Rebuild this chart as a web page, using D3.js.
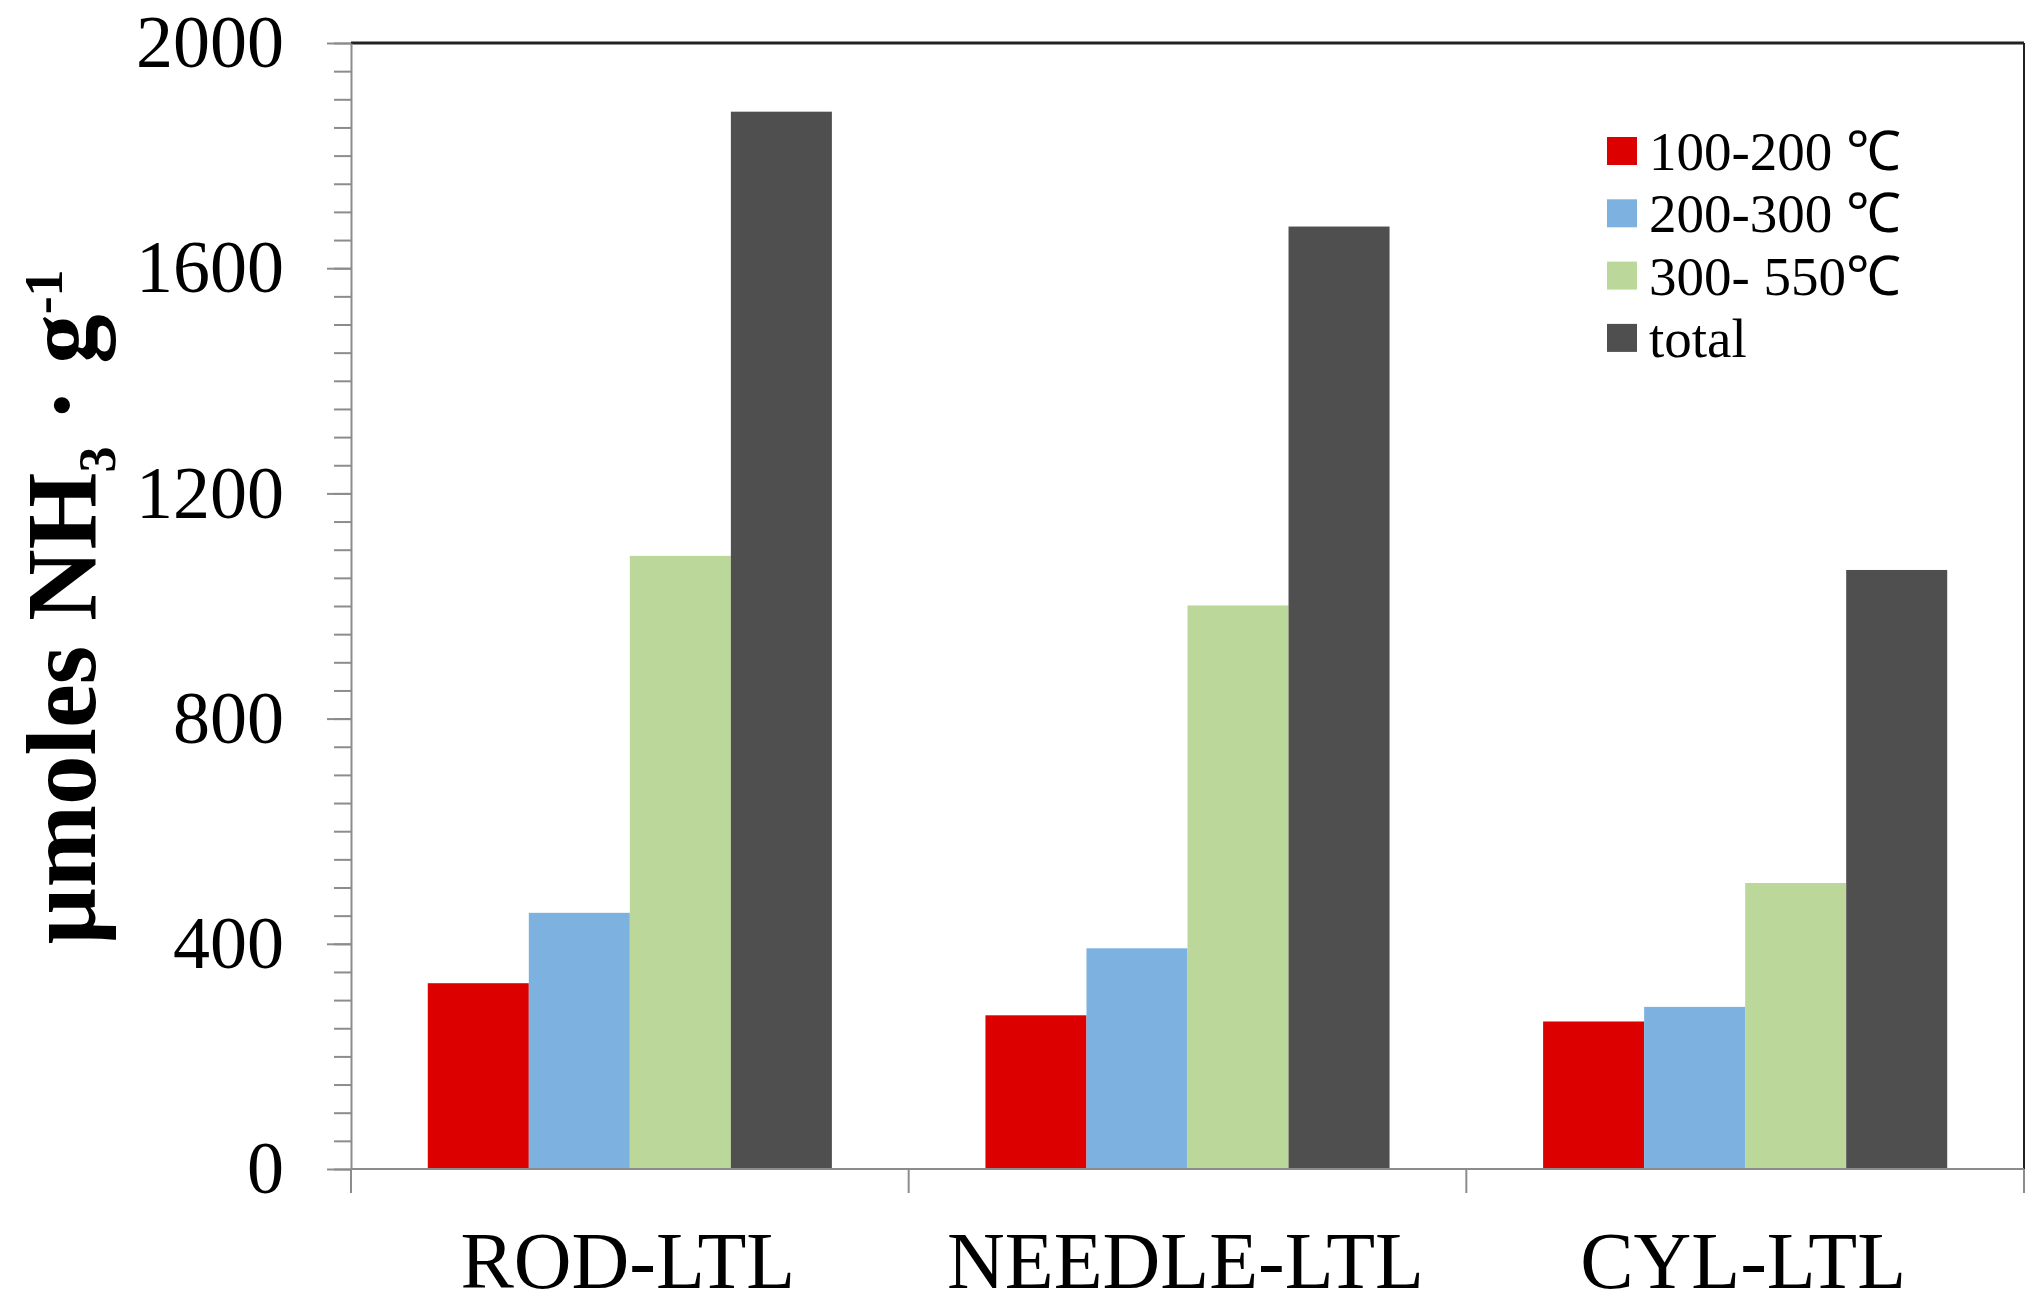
<!DOCTYPE html>
<html>
<head>
<meta charset="utf-8">
<script src="https://cdn.jsdelivr.net/npm/d3@7"></script>
<style>
  html, body { margin: 0; padding: 0; background: #fff; }
  svg { display: block; }
  text { font-family: "Liberation Serif", "Times New Roman", serif; fill: #000; }
</style>
</head>
<body>
<svg id="chart" width="2039" height="1311"></svg>
<script>
// ---- data ----
const categories = ["ROD-LTL", "NEEDLE-LTL", "CYL-LTL"];
const seriesNames = ["100-200 ℃", "200-300 ℃", "300- 550℃", "total"];
const seriesColors = ["#dc0000", "#7cb1e0", "#bcd79a", "#4f4f4f"];
const s100_200 = [330, 273, 262];
const s200_300 = [455, 392, 288];
const s300_550 = [1089, 1001, 508];
const sTotal   = [1878, 1674, 1064];
const majorTicks = [0, 400, 800, 1200, 1600, 2000];
const minorStep = 50;

const seriesValues = [s100_200, s200_300, s300_550, sTotal];

// ---- layout ----
const svg = d3.select("#chart");
const pLeft = 351, pRight = 2024, pTop = 43, pBottom = 1169;

const x = d3.scaleBand().domain(categories).range([pLeft, pRight]).paddingInner(0).paddingOuter(0);
const xs = d3.scaleBand().domain(d3.range(seriesNames.length)).range([0, x.bandwidth()])
  .paddingInner(0).paddingOuter(0.76);
const y = d3.scaleLinear().domain([0, 2000]).range([pBottom, pTop]);

// bars
const groups = svg.append("g").selectAll("g").data(categories).join("g")
  .attr("transform", d => `translate(${x(d)},0)`);
groups.selectAll("rect")
  .data((c, ci) => seriesValues.map((vals, si) => ({ si, v: vals[ci] })))
  .join("rect")
  .attr("x", d => xs(d.si))
  .attr("width", xs.bandwidth())
  .attr("y", d => y(d.v))
  .attr("height", d => y(0) - y(d.v))
  .attr("fill", d => seriesColors[d.si]);

// plot frame top & right (dark)
svg.append("line").attr("x1", pLeft).attr("x2", pRight).attr("y1", pTop).attr("y2", pTop)
  .attr("stroke", "#222").attr("stroke-width", 3);
svg.append("line").attr("x1", pRight).attr("x2", pRight).attr("y1", pTop).attr("y2", pBottom)
  .attr("stroke", "#222").attr("stroke-width", 2);

// minor y ticks
const minorAxis = d3.axisLeft(y).tickValues(d3.range(0, 2001, minorStep)).tickSize(17).tickFormat("");
const gMinor = svg.append("g").attr("transform", `translate(${pLeft},0)`).call(minorAxis);
gMinor.select(".domain").remove();
gMinor.selectAll("line").attr("stroke", "#8c8c8c").attr("stroke-width", 2);

// major y axis
const yAxis = d3.axisLeft(y).tickValues(majorTicks).tickSize(24).tickPadding(43).tickSizeOuter(0)
  .tickFormat(d3.format("d"));
const gY = svg.append("g").attr("transform", `translate(${pLeft},0)`).call(yAxis);
gY.select(".domain").attr("stroke", "#8c8c8c").attr("stroke-width", 2);
gY.selectAll("line").attr("stroke", "#8c8c8c").attr("stroke-width", 2);
gY.selectAll("text")
  .style("font-family", '"Liberation Serif", "Times New Roman", serif')
  .style("font-size", "74px").attr("fill", "#000");

// x axis (category boundaries)
const xAxisLine = svg.append("g");
xAxisLine.append("line").attr("x1", pLeft).attr("x2", pRight).attr("y1", pBottom).attr("y2", pBottom)
  .attr("stroke", "#8c8c8c").attr("stroke-width", 2);
const boundaries = categories.map(c => x(c)).concat([x(categories[categories.length - 1]) + x.bandwidth()]);
xAxisLine.selectAll("line.b").data(boundaries).join("line").attr("class", "b")
  .attr("x1", d => d).attr("x2", d => d).attr("y1", pBottom).attr("y2", pBottom + 24)
  .attr("stroke", "#8c8c8c").attr("stroke-width", 2);
svg.append("g").selectAll("text").data(categories).join("text")
  .attr("x", d => x(d) + x.bandwidth() / 2 - 2)
  .attr("y", 1288)
  .attr("text-anchor", "middle")
  .style("font-size", "80px")
  .text(d => d);

// y axis label
const yl = svg.append("text")
  .attr("transform", "translate(95,607) rotate(-90)")
  .attr("text-anchor", "middle")
  .style("font-size", "99px").style("font-weight", "bold");
yl.append("tspan").text("µmoles NH");
yl.append("tspan").attr("dy", 20).style("font-size", "52px").text("3");
yl.append("tspan").attr("dy", -20).text(" · g");
yl.append("tspan").attr("dy", -33).style("font-size", "54px").text("-1");

// legend
const legend = svg.append("g").attr("transform", "translate(1607,137)");
const li = legend.selectAll("g").data(seriesNames).join("g")
  .attr("transform", (d, i) => `translate(0,${i * 62.3})`);
li.append("rect").attr("width", 30).attr("height", 28).attr("fill", (d, i) => seriesColors[i]);
li.append("text").attr("x", 42).attr("y", 33).style("font-size", "55px").text(d => d);
</script>
</body>
</html>
